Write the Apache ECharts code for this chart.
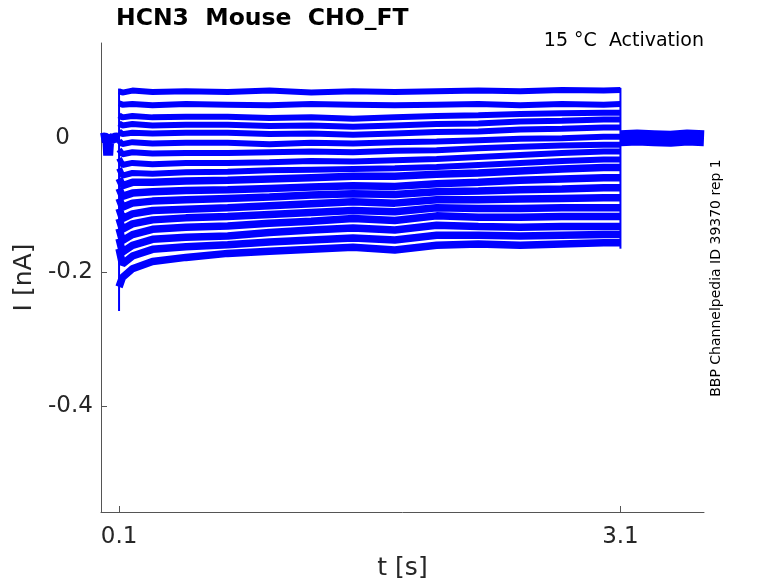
<!DOCTYPE html>
<html lang="en">
<head>
  <meta charset="UTF-8">
  <title>HCN3 Mouse CHO_FT</title>
  <style>
    * { margin: 0; padding: 0; }
    body { background: #ffffff; }
    #chart { width: 778px; height: 583px; }
  </style>
</head>
<body>
  <div id="chart"></div>
  <script src="https://cdn.jsdelivr.net/npm/echarts@6/dist/echarts.min.js"></script>
  <script type="text/javascript">
  // holding period before the step
  var tPre = [-0.008, 0.015, 0.03, 0.035, 0.038, 0.042, 0.06, 0.08, 0.1];
  var iPre = [0.000, 0.001, -0.001, -0.026, -0.014, 0.000, -0.001, 0.001, 0.000];
  // tail after the step
  var tPost = [3.1, 3.2, 3.3, 3.4, 3.5, 3.6];
  var iPost = [0.000, 0.001, 0.000, -0.001, 0.001, 0.000];

  // step sample times (s)
  var tStep = [0.1, 0.12, 0.18, 0.3, 0.5, 0.75, 1.0, 1.25, 1.5, 1.75, 2.0, 2.25, 2.5, 2.75, 3.0, 3.1];

  // current during each voltage step (nA)
  var i01 = [0.070, 0.068, 0.071, 0.069, 0.070, 0.069, 0.071, 0.068, 0.070, 0.069, 0.070, 0.071, 0.070, 0.072, 0.071, 0.072];
  var i02 = [0.052, 0.050, 0.051, 0.049, 0.051, 0.050, 0.049, 0.051, 0.050, 0.049, 0.050, 0.051, 0.049, 0.051, 0.050, 0.051];
  var i03 = [0.034, 0.031, 0.033, 0.031, 0.032, 0.032, 0.030, 0.031, 0.029, 0.031, 0.033, 0.034, 0.036, 0.037, 0.038, 0.038];
  var i04 = [0.022, 0.019, 0.021, 0.019, 0.020, 0.020, 0.018, 0.019, 0.017, 0.019, 0.021, 0.022, 0.025, 0.026, 0.028, 0.028];
  var i05 = [0.010, 0.006, 0.008, 0.007, 0.008, 0.008, 0.006, 0.007, 0.005, 0.007, 0.009, 0.010, 0.013, 0.014, 0.016, 0.016];
  var i06 = [-0.004, -0.009, -0.006, -0.008, -0.007, -0.007, -0.009, -0.007, -0.008, -0.006, -0.005, -0.003, -0.001, 0.000, 0.002, 0.002];
  var i07 = [-0.017, -0.024, -0.021, -0.023, -0.022, -0.022, -0.021, -0.020, -0.021, -0.019, -0.018, -0.015, -0.013, -0.011, -0.010, -0.010];
  var i08 = [-0.030, -0.040, -0.037, -0.039, -0.037, -0.037, -0.036, -0.034, -0.035, -0.033, -0.031, -0.028, -0.025, -0.022, -0.020, -0.020];
  var i09 = [-0.045, -0.056, -0.052, -0.053, -0.051, -0.050, -0.048, -0.047, -0.046, -0.045, -0.043, -0.040, -0.037, -0.034, -0.032, -0.032];
  var i10 = [-0.060, -0.071, -0.066, -0.066, -0.064, -0.063, -0.061, -0.059, -0.057, -0.057, -0.054, -0.052, -0.049, -0.046, -0.044, -0.044];
  var i11 = [-0.075, -0.087, -0.082, -0.080, -0.078, -0.077, -0.075, -0.073, -0.071, -0.072, -0.068, -0.066, -0.063, -0.061, -0.059, -0.059];
  var i12 = [-0.090, -0.103, -0.097, -0.094, -0.092, -0.090, -0.088, -0.085, -0.083, -0.084, -0.080, -0.079, -0.077, -0.076, -0.074, -0.074];
  var i13 = [-0.105, -0.120, -0.113, -0.108, -0.106, -0.104, -0.101, -0.098, -0.095, -0.097, -0.092, -0.092, -0.091, -0.090, -0.089, -0.089];
  var i14 = [-0.120, -0.136, -0.128, -0.122, -0.119, -0.117, -0.114, -0.111, -0.108, -0.110, -0.104, -0.105, -0.105, -0.104, -0.104, -0.104];
  var i15 = [-0.135, -0.153, -0.144, -0.136, -0.133, -0.131, -0.127, -0.124, -0.120, -0.123, -0.116, -0.118, -0.118, -0.117, -0.117, -0.117];
  var i16 = [-0.150, -0.170, -0.160, -0.151, -0.148, -0.146, -0.141, -0.137, -0.134, -0.137, -0.130, -0.132, -0.133, -0.132, -0.132, -0.132];
  var i17 = [-0.165, -0.188, -0.176, -0.166, -0.162, -0.159, -0.155, -0.152, -0.149, -0.152, -0.145, -0.145, -0.146, -0.145, -0.144, -0.144];
  var i18 = [-0.222, -0.208, -0.195, -0.184, -0.178, -0.172, -0.169, -0.166, -0.163, -0.167, -0.160, -0.158, -0.160, -0.158, -0.156, -0.156];

  // step edges (on / off)
  var onEdge = [0.074, -0.258];
  var offEdge = [0.075, -0.165];

  var xTicks = [0.1, 3.1];
  var yTicks = [0, -0.2, -0.4];

  function main () {
    var chart = echarts.init(document.getElementById('chart'));
    var traces = [i01, i02, i03, i04, i05, i06, i07, i08, i09, i10, i11, i12, i13, i14, i15, i16, i17, i18];
    var blue = '#0000ff';
    var textColor = '#262626';
    var lineColor = '#555555';

    var series = [];
    series.push({
      type: 'line', showSymbol: false, silent: true,
      data: tPre.map((t, k) => [t, iPre[k]]),
      lineStyle: { color: blue, width: 10 }
    });
    series.push({
      type: 'line', showSymbol: false, silent: true,
      data: tPost.map((t, k) => [t, iPost[k]]),
      lineStyle: { color: blue, width: 16 }
    });
    traces.forEach((tr, n) => {
      series.push({
        type: 'line', showSymbol: false, silent: true,
        data: tStep.map((t, k) => [t, tr[k]]),
        lineStyle: { color: blue, width: n < 9 ? 6 : 7.5 }
      });
    });
    series.push({
      type: 'line', showSymbol: false, silent: true,
      data: onEdge.map(v => [0.1, v]),
      lineStyle: { color: blue, width: 2 }
    });
    series.push({
      type: 'line', showSymbol: false, silent: true,
      data: offEdge.map(v => [3.1, v]),
      lineStyle: { color: blue, width: 2 }
    });

    var option = {
      animation: false,
      title: {
        text: 'HCN3  Mouse  CHO_FT',
        left: 111, top: 2,
        textStyle: { fontFamily: 'DejaVu Sans', fontWeight: 'bold', fontSize: 23.5, color: '#000' }
      },
      grid: { left: 101, right: 74, top: 43, bottom: 71, containLabel: false, outerBoundsMode: 'none' },
      xAxis: {
        type: 'value', min: -0.008, max: 3.6,
        name: 't [s]', nameLocation: 'middle', nameGap: 44,
        nameTextStyle: { fontFamily: 'DejaVu Sans', fontSize: 25, color: textColor },
        axisLine: { onZero: false, lineStyle: { color: lineColor, width: 1 } },
        axisTick: { inside: true, length: 6, customValues: xTicks, lineStyle: { color: lineColor } },
        axisLabel: { customValues: xTicks, fontFamily: 'DejaVu Sans', fontSize: 23, color: textColor, margin: 14 },
        splitLine: { show: false }
      },
      yAxis: {
        type: 'value', min: -0.558, max: 0.142,
        name: 'I [nA]', nameLocation: 'middle', nameGap: 53,
        nameTextStyle: { fontFamily: 'DejaVu Sans', fontSize: 25, color: textColor },
        axisLine: { show: true, onZero: false, lineStyle: { color: lineColor, width: 1 } },
        axisTick: { show: true, inside: true, length: 6, customValues: yTicks, lineStyle: { color: lineColor } },
        axisLabel: {
          customValues: yTicks, fontFamily: 'DejaVu Sans', fontSize: 23, color: textColor,
          align: 'left', margin: 53, padding: [4, 0, 0, 0],
          formatter: v => (v === 0 ? ' 0' : v.toFixed(1))
        },
        splitLine: { show: false }
      },
      graphic: [
        {
          type: 'text', right: 74, top: 32,
          style: { text: '15 °C  Activation', fontFamily: 'DejaVu Sans', fontSize: 19, fill: '#000' }
        },
        {
          type: 'text', x: 716, y: 278, rotation: Math.PI / 2,
          style: { text: 'BBP Channelpedia ID 39370 rep 1', fontFamily: 'DejaVu Sans', fontSize: 14, fill: '#000', align: 'center', verticalAlign: 'middle' }
        }
      ],
      series: series
    };
    chart.setOption(option);
  }

  window.addEventListener('load', main);
  </script>
</body>
</html>
